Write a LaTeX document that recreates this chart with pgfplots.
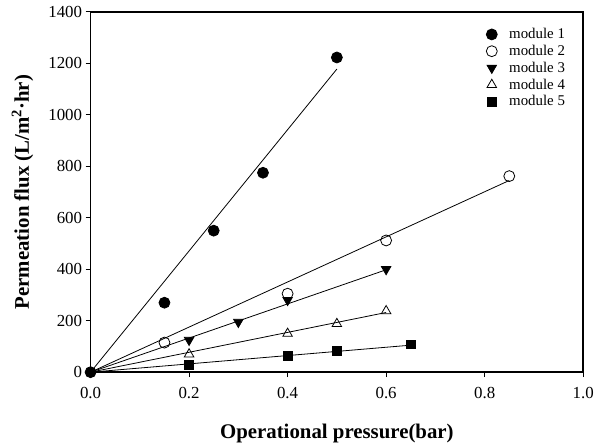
\documentclass[border=0pt]{standalone}
\usepackage{pgfplots}
\pgfplotsset{compat=1.18}
\usepackage{fontspec}
\setmainfont{Liberation Serif}
\begin{document}
\begin{tikzpicture}
\begin{axis}[
    scale only axis,
    width=495bp, height=362bp,
    xmin=0, xmax=1, ymin=0, ymax=1400,
    xtick={0,0.2,...,1.0},
    ytick={0,200,...,1400},
    xticklabel style={yshift=-7bp, /pgf/number format/.cd, fixed, fixed zerofill, precision=1},
    yticklabel style={/pgf/number format/1000 sep={}},
    /pgf/number format/assume math mode=true,
    tick align=outside,
    xtick pos=bottom, ytick pos=left,
    major tick length=5bp,
    axis line style={line width=1.6bp},
    tick style={line width=1bp, black},
    ticklabel style={font=\fontsize{17}{19}\selectfont},
    xlabel={\textbf{Operational pressure(bar)}},
    ylabel={\textbf{Permeation flux (L/m\textsuperscript{2}·hr)}},
    label style={font=\fontsize{21}{23}\selectfont},
    xlabel style={at={(0.5,-0.17)}, anchor=center},
    ylabel style={at={(-0.138,0.5)}, anchor=center, rotate=0},
    legend style={draw=none, fill=none, inner sep=0pt, at={(0.803,0.96)}, anchor=north west,
        font=\fontsize{15}{17}\selectfont, row sep=1bp,
        /tikz/every odd column/.append style={column sep=10bp}},
    legend cell align=left,
    every axis plot/.append style={line width=0.8bp, black},
    mark size=5.5bp,
]
\coordinate (o) at (rel axis cs:0,0);
% fitted lines
\addplot[no marks, forget plot] coordinates {(0,0) (0.5,1178)};
\addplot[no marks, forget plot] coordinates {(0,0) (0.85,745)};
\addplot[no marks, forget plot] coordinates {(0,0) (0.6,398)};
\addplot[no marks, forget plot] coordinates {(0,0) (0.6,232)};
\addplot[no marks, forget plot] coordinates {(0,0) (0.65,105)};
% measured points
\addplot[only marks, mark=*] coordinates {(0,0) (0.15,270) (0.25,550) (0.35,775) (0.5,1223)};
\addplot[only marks, mark=o, mark options={fill=white}] coordinates {(0.15,115) (0.4,305) (0.6,512) (0.85,762)};
\addplot[only marks, mark=triangle*, mark options={rotate=180}] coordinates {(0.2,125) (0.3,195) (0.4,280) (0.6,400)};
\addplot[only marks, mark=triangle, mark options={fill=white}] coordinates {(0.2,70) (0.4,150) (0.5,188) (0.6,238)};
\addplot[only marks, mark=square*, mark size=4.5bp] coordinates {(0.2,28) (0.4,65) (0.5,82) (0.65,108)};
\legend{module 1, module 2, module 3, module 4, module 5}
\end{axis}
\path (o) ++(-91bp,-72bp) rectangle ++(597bp,446bp);
\end{tikzpicture}
\end{document}
